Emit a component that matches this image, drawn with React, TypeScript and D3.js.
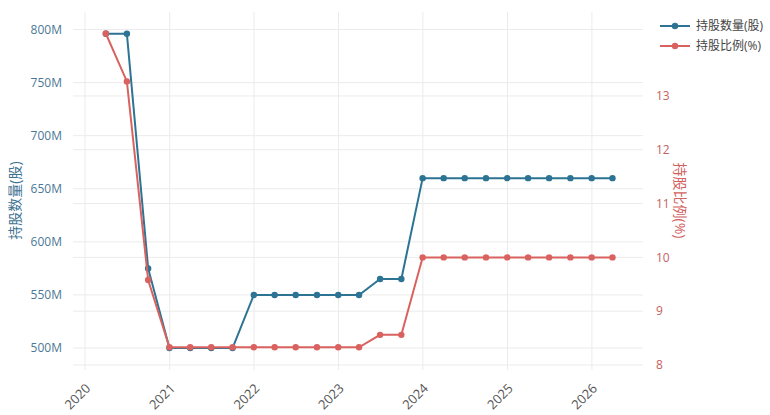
import React from "react";
import * as d3 from "d3";

const dates = [
  "2020-03-31", "2020-06-30", "2020-09-30", "2020-12-31",
  "2021-03-31", "2021-06-30", "2021-09-30", "2021-12-31",
  "2022-03-31", "2022-06-30", "2022-09-30", "2022-12-31",
  "2023-03-31", "2023-06-30", "2023-09-30", "2023-12-31",
  "2024-03-31", "2024-06-30", "2024-09-30", "2024-12-31",
  "2025-03-31", "2025-06-30", "2025-09-30", "2025-12-31",
  "2026-03-31",
];
const shares = [
  796e6, 796e6, 575e6, 500e6,
  500e6, 500e6, 500e6, 550e6,
  550e6, 550e6, 550e6, 550e6,
  550e6, 565e6, 565e6, 660e6,
  660e6, 660e6, 660e6, 660e6,
  660e6, 660e6, 660e6, 660e6,
  660e6,
];
const ratio = [
  14.16, 13.27, 9.58, 8.33,
  8.33, 8.33, 8.33, 8.33,
  8.33, 8.33, 8.33, 8.33,
  8.33, 8.56, 8.56, 10,
  10, 10, 10, 10,
  10, 10, 10, 10,
  10,
];
const leftTicks = [500e6, 550e6, 600e6, 650e6, 700e6, 750e6, 800e6];
const rightTicks = [8, 9, 10, 11, 12, 13];
const yearTicks = [2020, 2021, 2022, 2023, 2024, 2025, 2026];
const seriesNames = ["持股数量(股)", "持股比例(%)"];

const BLUE = "#2c7394";
const RED = "#d9625f";
const FONT = "'Open Sans', 'Noto Sans CJK SC', sans-serif";

export default function App() {
  const W = 770, H = 415;
  const L = 73, R = 643, T = 12, B = 365;
  const parsed = dates.map((d) => new Date(d + "T00:00:00"));
  const dayMs = 86400000;
  const x = d3
    .scaleTime()
    .domain([new Date(parsed[0].getTime() - 142 * dayMs), new Date(parsed[parsed.length - 1].getTime() + 132 * dayMs)])
    .range([L, R]);
  const yL = d3.scaleLinear().domain([484e6, 816.5e6]).range([B, T]);
  const yR = d3.scaleLinear().domain([8, 14.56]).range([B, T]);

  const lineL = d3.line<number>().x((_, i) => x(parsed[i])).y((v) => yL(v));
  const lineR = d3.line<number>().x((_, i) => x(parsed[i])).y((v) => yR(v));

  const fmtM = (v: number) => `${Math.round(v / 1e6)}M`;

  return (
    <svg width={W} height={H} style={{ position: "absolute", left: 0, top: 0, fontFamily: FONT }}>
      <rect width={W} height={H} fill="#fff" />
      {/* grid */}
      {yearTicks.map((yr) => {
        const px = x(new Date(`${yr}-01-01T00:00:00`));
        return <line key={"vx" + yr} x1={px} x2={px} y1={T} y2={B + 5} stroke="#ebebeb" strokeWidth={1} />;
      })}
      {leftTicks.map((t) => (
        <line key={"gl" + t} x1={L} x2={R} y1={yL(t)} y2={yL(t)} stroke="#ebebeb" strokeWidth={1} />
      ))}
      {rightTicks.map((t) => (
        <line key={"gr" + t} x1={L} x2={R} y1={yR(t)} y2={yR(t)} stroke="#ebebeb" strokeWidth={1} />
      ))}
      {/* left ticks */}
      {leftTicks.map((t) => (
        <text key={"tl" + t} x={L - 11} y={yL(t)} dy="0.35em" textAnchor="end" fontSize={12} fill="#4b7896">
          {fmtM(t)}
        </text>
      ))}
      {/* right ticks */}
      {rightTicks.map((t) => (
        <text key={"tr" + t} x={R + 13} y={yR(t)} dy="0.35em" textAnchor="start" fontSize={12} fill="#c4625f">
          {t}
        </text>
      ))}
      {/* x ticks */}
      {yearTicks.map((yr) => {
        const px = x(new Date(`${yr}-01-01T00:00:00`));
        return (
          <text
            key={"tx" + yr}
            transform={`translate(${px + 3},${B + 21}) rotate(-45)`}
            textAnchor="end"
            dy="0.35em"
            fontSize={13}
            fill="#555"
          >
            {yr}
          </text>
        );
      })}
      {/* axis titles */}
      <text
        transform={`translate(20,${(T + B) / 2 + 12}) rotate(-90)`}
        textAnchor="middle"
        fontSize={14}
        fill="#3f7393"
      >
        {seriesNames[0]}
      </text>
      <text
        transform={`translate(675,${(T + B) / 2 + 12}) rotate(90)`}
        textAnchor="middle"
        fontSize={14}
        fill="#d0625f"
      >
        {seriesNames[1]}
      </text>
      {/* series */}
      <path d={lineL(shares) || ""} fill="none" stroke={BLUE} strokeWidth={2} />
      {shares.map((v, i) => (
        <circle key={"cb" + i} cx={x(parsed[i])} cy={yL(v)} r={3.2} fill={BLUE} />
      ))}
      <path d={lineR(ratio) || ""} fill="none" stroke={RED} strokeWidth={2} />
      {ratio.map((v, i) => (
        <circle key={"cr" + i} cx={x(parsed[i])} cy={yR(v)} r={3.2} fill={RED} />
      ))}
      {/* legend */}
      {seriesNames.map((n, i) => {
        const ly = 26 + i * 20;
        const c = i === 0 ? BLUE : RED;
        return (
          <g key={"lg" + i}>
            <line x1={660} x2={690} y1={ly} y2={ly} stroke={c} strokeWidth={2} />
            <circle cx={675} cy={ly} r={3.2} fill={c} />
            <text x={696} y={ly} dy="0.35em" fontSize={12} fill="#444">
              {n}
            </text>
          </g>
        );
      })}
    </svg>
  );
}
